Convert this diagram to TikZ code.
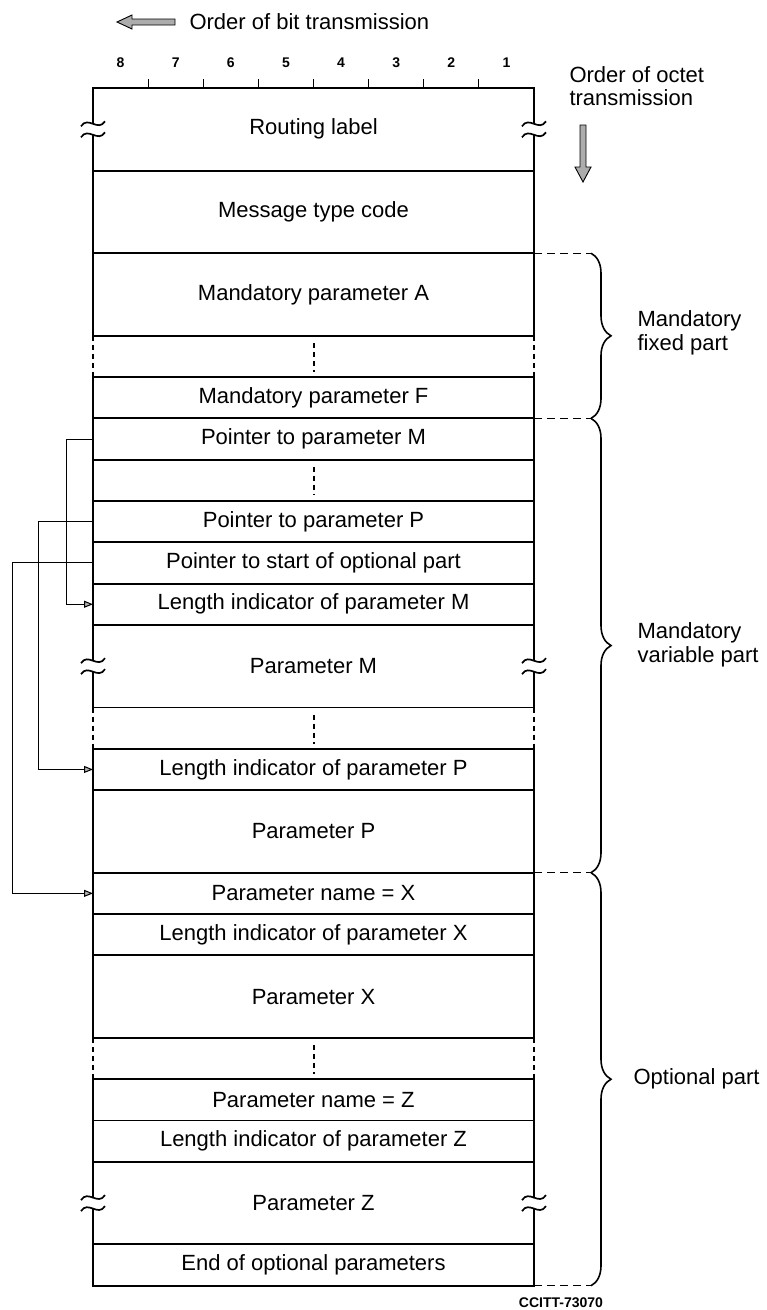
\documentclass[tikz,border=0pt]{standalone}
\usepackage{fontspec}
\setmainfont{Liberation Sans}
\usetikzlibrary{positioning,arrows.meta,decorations.pathreplacing}

\begin{document}
\begin{tikzpicture}[x=1pt, y=-1pt,
    every node/.style={font=\fontsize{22}{24}\selectfont},
    row/.style={draw, line width=1.9pt, minimum width=441pt, minimum height=41.3pt, inner sep=0pt, outer sep=0pt},
    tall/.style={row, minimum height=82.6pt},
    gapline/.style={line width=2pt, dash pattern=on 5pt off 4pt},
    link/.style={line width=1pt, -{Triangle[length=9pt,width=7pt,fill=gray!60]}},
    brc/.style={line width=1.6pt, decorate, decoration={brace, amplitude=20pt}},
    lead/.style={line width=1.3pt, dash pattern=on 8pt off 5pt},
    bitno/.style={font=\bfseries\fontsize{14}{14}\selectfont},
    brk/.pic={
      \fill[white] (-3,-5) rectangle (3,5);
      \draw[line width=1.7pt] (-12,-3) .. controls (-5,-14) and (5,3) .. (12,-8);
      \draw[line width=1.7pt] (-12,8) .. controls (-5,-3) and (5,14) .. (12,3);
    }]
  \useasboundingbox (0,0) rectangle (767,1310);

  % octet layout
  \node[tall, anchor=north] (route) at (313.5,88) {Routing label};
  \node[tall, below=0pt of route] (msg) {Message type code};
  \node[tall, below=0pt of msg] (parA) {Mandatory parameter A};
  \node[row, below=41.3pt of parA] (parF) {Mandatory parameter F};
  \node[row, below=0pt of parF] (ptrM) {Pointer to parameter M};
  \node[row, below=0pt of ptrM] (ptrgap) {};
  \node[row, below=0pt of ptrgap] (ptrP) {Pointer to parameter P};
  \node[row, below=0pt of ptrP] (ptrO) {Pointer to start of optional part};
  \node[row, below=0pt of ptrO] (lenM) {Length indicator of parameter M};
  \node[tall, below=0pt of lenM] (parM) {Parameter M};
  \node[row, below=41.3pt of parM] (lenP) {Length indicator of parameter P};
  \node[tall, below=0pt of lenP] (parP) {Parameter P};
  \node[row, below=0pt of parP] (nameX) {Parameter name = X};
  \node[row, below=0pt of nameX] (lenX) {Length indicator of parameter X};
  \node[tall, below=0pt of lenX] (parX) {Parameter X};
  \node[row, below=41.3pt of parX] (nameZ) {Parameter name = Z};
  \node[row, below=0pt of nameZ] (lenZ) {Length indicator of parameter Z};
  \node[tall, below=0pt of lenZ] (parZ) {Parameter Z};
  \node[row, below=0pt of parZ] (endopt) {End of optional parameters};

  % omitted octets
  \draw[gapline] (parA.south west) -- (parF.north west);
  \draw[gapline] (parA.south east) -- (parF.north east);
  \draw[gapline] ([yshift=-7pt]parA.south) -- ([yshift=5pt]parF.north);
  \draw[gapline] ([yshift=-7pt]ptrgap.north) -- ([yshift=6pt]ptrgap.south);
  \draw[gapline] (parM.south west) -- (lenP.north west);
  \draw[gapline] (parM.south east) -- (lenP.north east);
  \draw[gapline] ([yshift=-7pt]parM.south) -- ([yshift=5pt]lenP.north);
  \draw[gapline] (parX.south west) -- (nameZ.north west);
  \draw[gapline] (parX.south east) -- (nameZ.north east);
  \draw[gapline] ([yshift=-7pt]parX.south) -- ([yshift=5pt]nameZ.north);

  \pic at (route.west) {brk};
  \pic at (route.east) {brk};
  \pic at (parM.west) {brk};
  \pic at (parM.east) {brk};
  \pic at (parZ.west) {brk};
  \pic at (parZ.east) {brk};

  % bit numbering
  \foreach \i in {1,...,7}
    \draw[line width=1.2pt] (93+55.125*\i,79) -- (93+55.125*\i,88);
  \foreach \b [count=\i] in {8,7,...,1}
    \node[bitno] (bit\b) at (65.4+55.125*\i,63) {\b};

  \node[anchor=west] (bitlbl) at (186,22) {Order of bit transmission};
  \draw[line width=0.9pt, fill=gray!65] (117,22) -- (132,15) -- (132,19) -- (175,19)
    -- (175,25) -- (132,25) -- (132,29) -- cycle;

  \node[anchor=west, align=left, font=\fontsize{22}{23}\selectfont] (octlbl) at (566,86)
    {Order of octet\\transmission};
  \draw[line width=0.9pt, fill=gray!65] (583,182) -- (575,167) -- (580,167) -- (580,125)
    -- (586,125) -- (586,167) -- (591,167) -- cycle;

  % pointers
  \draw[link] (ptrM.west) -- ++(-27,0) |- (lenM.west);
  \draw[link] (ptrP.west) -- ++(-55,0) |- (lenP.west);
  \draw[link] (ptrO.west) -- ++(-81,0) |- (nameX.west);

  % parts
  \draw[lead] (msg.south east) -- ++(57,0);
  \draw[lead] (parF.south east) -- ++(57,0);
  \draw[lead] (parP.south east) -- ++(57,0);
  \draw[lead] (endopt.south east) -- ++(57,0);
  \draw[brc] ([xshift=57pt]msg.south east) -- ([xshift=57pt]parF.south east);
  \draw[brc] ([xshift=57pt]parF.south east) -- ([xshift=57pt]parP.south east);
  \draw[brc] ([xshift=57pt]parP.south east) -- ([xshift=57pt]endopt.south east);

  \node[anchor=west, align=left] (fixlbl) at (634,333) {Mandatory\\fixed part};
  \node[anchor=west, align=left] (varlbl) at (634,645) {Mandatory\\variable part};
  \node[anchor=west] (optlbl) at (630,1079) {Optional part};

  \node[bitno] (ref) at (561,1303) {CCITT-73070};
\end{tikzpicture}
\end{document}
